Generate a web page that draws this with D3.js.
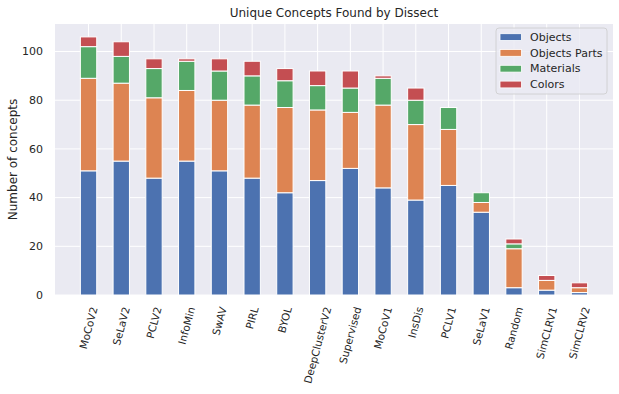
<!DOCTYPE html>
<html>
<head>
<meta charset="utf-8">
<script src="https://cdn.jsdelivr.net/npm/d3@7.9.0/dist/d3.min.js"></script>
<style>
  body { margin: 0; background: #fff; }
  text { font-family: "DejaVu Sans", sans-serif; fill: #262626; }
</style>
</head>
<body>
<svg id="chart" width="619" height="394"></svg>
<script>
// models, in plotted order
const models = ['MoCoV2', 'SeLaV2', 'PCLV2', 'InfoMin', 'SwAV', 'PIRL', 'BYOL', 'DeepClusterV2',
  'Supervised', 'MoCoV1', 'InsDis', 'PCLV1', 'SeLaV1', 'Random', 'SimCLRV1', 'SimCLRV2'];

const objects   = [51, 55, 48, 55, 51, 48, 42, 47, 52, 44, 39, 45, 34, 3, 2, 1];
const parts     = [38, 32, 33, 29, 29, 30, 35, 29, 23, 34, 31, 23, 4, 16, 4, 2];
const materials = [13, 11, 12, 12, 12, 12, 11, 10, 10, 11, 10, 9, 4, 2, 0, 0];
const colors    = [4, 6, 4, 1, 5, 6, 5, 6, 7, 1, 5, 0, 0, 2, 2, 2];

const seriesNames = ['Objects', 'Objects Parts', 'Materials', 'Colors'];
const yTicks = [0, 20, 40, 60, 80, 100];

const palette = ['#4C72B0', '#DD8452', '#55A868', '#C44E52'];

const rows = models.map((m, i) => ({
  model: m, i: i,
  'Objects': objects[i], 'Objects Parts': parts[i],
  'Materials': materials[i], 'Colors': colors[i]
}));

const stacked = d3.stack().keys(seriesNames)(rows);
const ymax = d3.max(stacked[stacked.length - 1], d => d[1]);

const margin = { left: 55, right: 6, top: 24, bottom: 99 };
const W = 619, H = 394;

const svg = d3.select('#chart');

let x = d3.scaleLinear()
  .domain([-1.025, models.length - 1 + 1.025])
  .range([margin.left, W - margin.right]);
let y = d3.scaleLinear()
  .domain([0, ymax * 1.05])
  .range([H - margin.bottom, margin.top]);

// background
svg.append('rect')
  .attr('x', margin.left).attr('y', margin.top)
  .attr('width', W - margin.left - margin.right)
  .attr('height', H - margin.top - margin.bottom)
  .attr('fill', '#EAEAF2');

// grid lines
svg.append('g').selectAll('line').data(yTicks).join('line')
  .attr('x1', margin.left).attr('x2', W - margin.right)
  .attr('y1', d => y(d)).attr('y2', d => y(d))
  .attr('stroke', '#fff').attr('stroke-width', 1);
svg.append('g').selectAll('line').data(models).join('line')
  .attr('x1', (d, i) => x(i)).attr('x2', (d, i) => x(i))
  .attr('y1', margin.top).attr('y2', H - margin.bottom)
  .attr('stroke', '#fff').attr('stroke-width', 1);

// bars
const bw = x(0.5) - x(0);
svg.append('g').selectAll('g').data(stacked).join('g')
  .attr('fill', (d, k) => palette[k])
  .selectAll('rect').data(d => d).join('rect')
  .attr('x', d => x(d.data.i) - bw / 2)
  .attr('width', bw)
  .attr('y', d => y(d[1]))
  .attr('height', d => y(d[0]) - y(d[1]))
  .attr('stroke', '#fff')
  .attr('stroke-width', d => (d[1] - d[0]) > 0 ? 1 : 0);

// y tick labels
svg.append('g').selectAll('text').data(yTicks).join('text')
  .attr('x', margin.left - 12)
  .attr('y', d => y(d))
  .attr('dy', '0.35em')
  .attr('text-anchor', 'end')
  .attr('font-size', 11)
  .text(d => d);

// x tick labels: rotated 75deg, bounding box centred under the tick, top aligned
const fs = 10.5, theta = 75 * Math.PI / 180, boxTop = H - margin.bottom + 10.5;
const xl = svg.append('g').selectAll('text').data(models).join('text')
  .attr('text-anchor', 'middle')
  .attr('dy', '0.35em')
  .attr('font-size', fs)
  .text(d => d);
xl.attr('transform', function (d, i) {
  const L = this.getComputedTextLength();
  const h = fs * 1.17;
  const bh = L * Math.sin(theta) + h * Math.cos(theta);
  return `translate(${x(i)},${boxTop + bh / 2}) rotate(-75)`;
});

// axis label and title
svg.append('text')
  .attr('transform', `translate(16.5,${(margin.top + H - margin.bottom) / 2}) rotate(-90)`)
  .attr('text-anchor', 'middle')
  .attr('font-size', 12)
  .text('Number of concepts');

svg.append('text')
  .attr('x', (margin.left + W - margin.right) / 2)
  .attr('y', 17)
  .attr('text-anchor', 'middle')
  .attr('font-size', 12)
  .text('Unique Concepts Found by Dissect');

// legend
const lg = svg.append('g').attr('transform', 'translate(496,28)');
lg.append('rect')
  .attr('width', 111).attr('height', 66)
  .attr('rx', 3)
  .attr('fill', '#EAEAF2').attr('fill-opacity', 0.8)
  .attr('stroke', '#cccccc').attr('stroke-width', 0.8);
seriesNames.forEach((name, k) => {
  const row = lg.append('g').attr('transform', `translate(4,${9 + k * 15.8})`);
  row.append('rect')
    .attr('x', 0).attr('y', -3.3).attr('width', 21.5).attr('height', 6.8)
    .attr('fill', palette[k]).attr('stroke', '#fff').attr('stroke-width', 0.8);
  row.append('text')
    .attr('x', 30).attr('y', 0).attr('dy', '0.35em')
    .attr('font-size', 11)
    .text(name);
});
</script>
</body>
</html>
